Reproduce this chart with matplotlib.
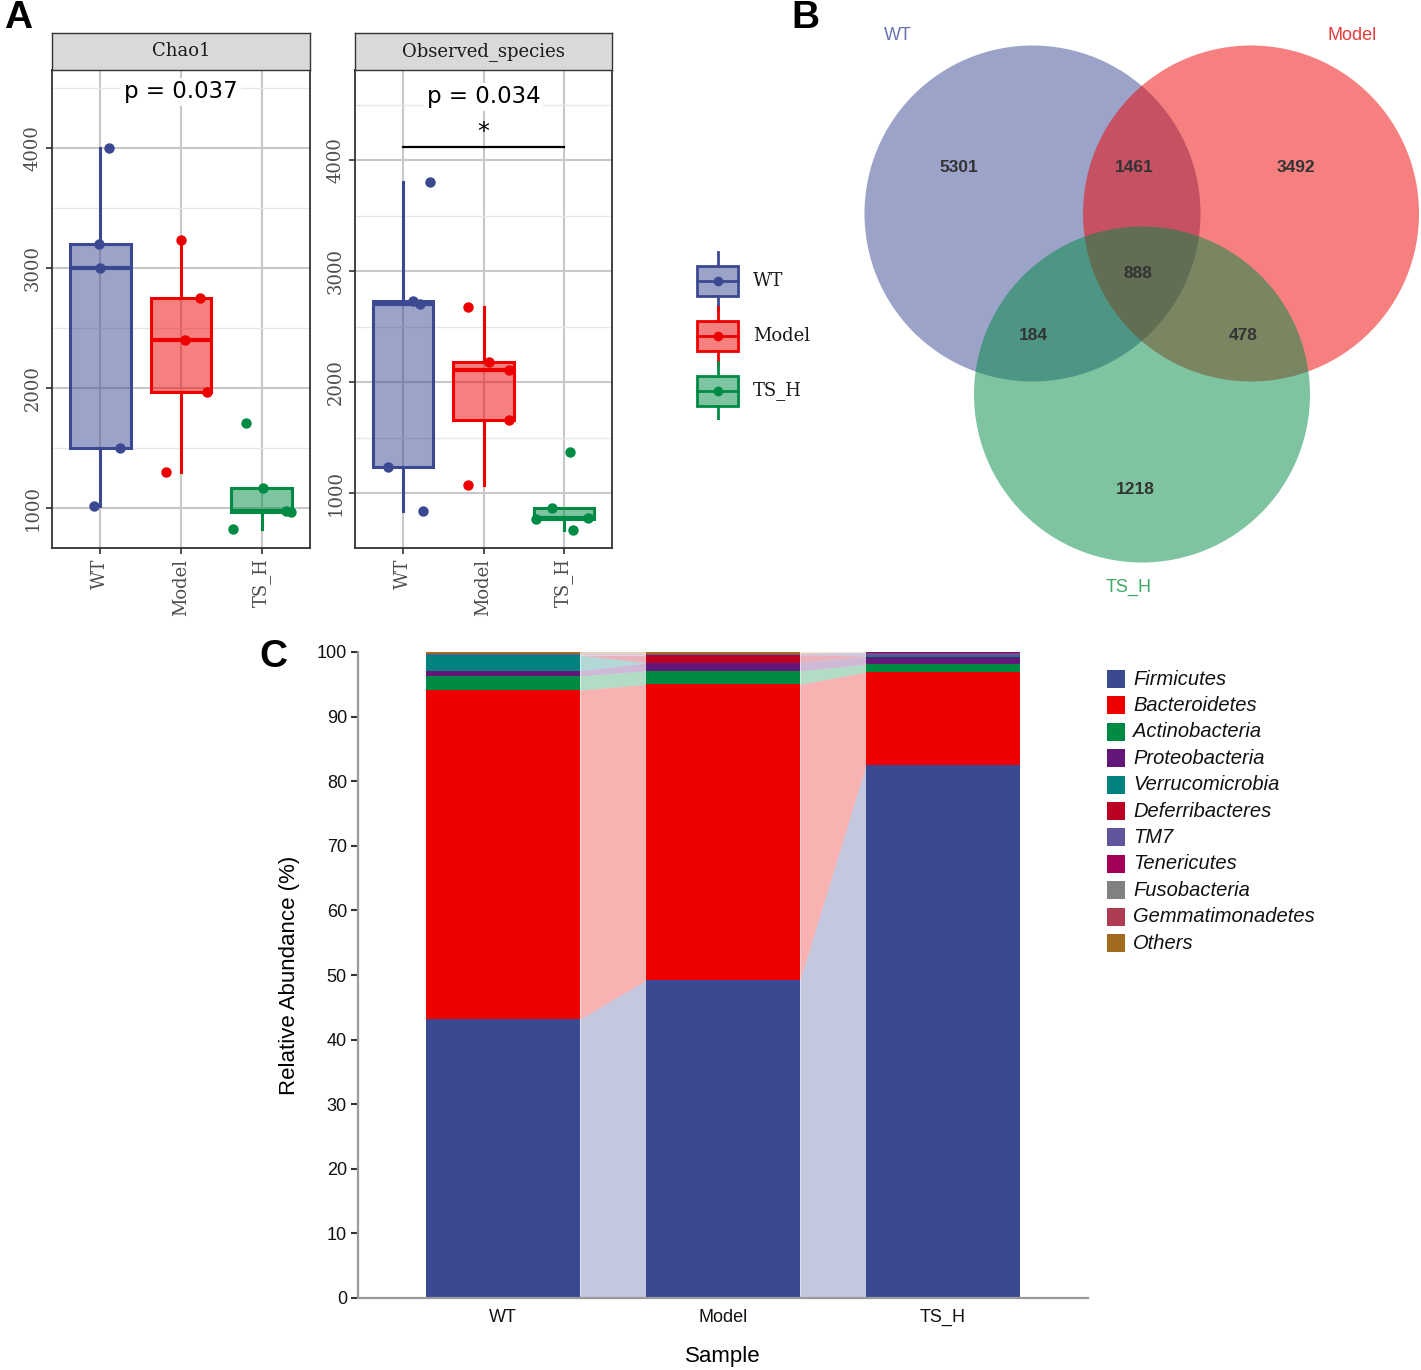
import numpy as np
import matplotlib
matplotlib.use('Agg')
import matplotlib.pyplot as plt
from matplotlib.patches import Rectangle, Circle
from matplotlib.colors import to_rgba

# ---------------- data ----------------
groups = ['WT', 'Model', 'TS_H']
group_colors = ['#3B4992', '#EE0000', '#008B45']

chao1_WT = [4000, 3200, 3000, 1500, 1020]
chao1_Model = [3235, 2748, 2401, 1971, 1298]
chao1_TSH = [1712, 1171, 977, 970, 822]
chao1_p = 'p = 0.037'

obs_WT = [3800, 2733, 2705, 1234, 839]
obs_Model = [2680, 2180, 2110, 1654, 1070]
obs_TSH = [1374, 867, 775, 769, 667]
obs_p = 'p = 0.034'
obs_sig = '*'

# horizontal jitter of the sample points
chao1_jit = [[0.11, -0.02, 0.0, 0.24, -0.08],
             [0.0, 0.23, 0.05, 0.32, -0.18],
             [-0.20, 0.02, 0.30, 0.36, -0.36]]
obs_jit = [[0.34, 0.12, 0.21, -0.19, 0.25],
           [-0.19, 0.07, 0.32, 0.32, -0.19],
           [0.08, -0.15, 0.30, -0.35, 0.12]]

venn_sets = ['WT', 'Model', 'TS_H']
venn_region_names = ['WT', 'WT&Model', 'Model', 'all', 'WT&TS_H', 'Model&TS_H', 'TS_H']
venn_counts = [5301, 1461, 3492, 888, 184, 478, 1218]

phyla = ['Firmicutes', 'Bacteroidetes', 'Actinobacteria', 'Proteobacteria',
         'Verrucomicrobia', 'Deferribacteres', 'TM7', 'Tenericutes',
         'Fusobacteria', 'Gemmatimonadetes', 'Others']
phyla_colors = ['#3B4992', '#EE0000', '#008B45', '#631879', '#008280',
                '#BB0021', '#5F559B', '#A20056', '#808180', '#B03C54', '#A36A22']
abund_WT = [43.2, 50.9, 2.2, 0.8, 2.4, 0.05, 0.15, 0.05, 0.0, 0.0, 0.25]
abund_Model = [49.2, 45.8, 2.1, 1.2, 0.05, 1.2, 0.15, 0.05, 0.0, 0.0, 0.25]
abund_TSH = [82.5, 14.4, 1.2, 1.2, 0.05, 0.05, 0.5, 0.05, 0.0, 0.0, 0.05]

# ---------------- figure ----------------
W, H = 1421, 1370
fig = plt.figure(figsize=(W / 100, H / 100), dpi=100)


def px_axes(l, t, r, b, **kw):
    return fig.add_axes([l / W, 1 - b / H, (r - l) / W, (b - t) / H], **kw)


SERIF = 'DejaVu Serif'
SANS = 'Liberation Sans'


def alpha_panel(l, r, data, jit, ylim, title, ptext, py, sig=None):
    ax = px_axes(l, 70, r, 548)
    strip = px_axes(l, 33, r, 70)
    strip.set_facecolor('#d9d9d9')
    strip.set_xticks([]); strip.set_yticks([])
    for s in strip.spines.values():
        s.set_color('#333333'); s.set_linewidth(1.0)
    strip.text(0.5, 0.5, title, ha='center', va='center', fontsize=13,
               family=SERIF, color='#1a1a1a', transform=strip.transAxes)

    for i, (vals, c) in enumerate(zip(data, group_colors)):
        bp = ax.boxplot([vals], positions=[i], widths=0.75, patch_artist=True,
                        showfliers=False, showcaps=False, whis=1.5, manage_ticks=False,
                        boxprops=dict(facecolor=to_rgba(c, 0.5), edgecolor=c, linewidth=2.2),
                        whiskerprops=dict(color=c, linewidth=2.2),
                        medianprops=dict(color=c, linewidth=3.0))
        for art in bp['boxes'] + bp['whiskers'] + bp['medians']:
            art.set_zorder(2)
        ax.plot(np.array(jit[i]) + i, vals, 'o', color=c, ms=7.5, mec='none', zorder=3)

    ax.set_xlim(-0.6, 2.6)
    ax.set_ylim(*ylim)
    ax.set_yticks([1000, 2000, 3000, 4000])
    ax.set_yticks([1500, 2500, 3500, 4500], minor=True)
    ax.set_xticks(range(3))
    ax.set_xticklabels(groups, rotation=90, family=SERIF, fontsize=13, color='#4d4d4d')
    for t in ax.get_yticklabels():
        t.set_rotation(90); t.set_va('center'); t.set_family(SERIF)
        t.set_fontsize(13); t.set_color('#4d4d4d')
    ax.tick_params(axis='both', which='major', length=4, width=1.2, color='#333333')
    ax.tick_params(axis='y', which='minor', length=0)
    ax.grid(True, which='major', color='#c8c8c8', lw=1.5, zorder=0)
    ax.grid(True, which='minor', axis='y', color='#e6e6e6', lw=1.0, zorder=0)
    ax.set_axisbelow(True)
    for s in ax.spines.values():
        s.set_color('#333333'); s.set_linewidth(1.3)

    ax.text(1, py, ptext, ha='center', va='center', fontsize=16.5, family='DejaVu Sans',
            color='black', zorder=4,
            bbox=dict(facecolor='white', edgecolor='none', pad=2))
    if sig is not None:
        ax.plot([0, 2], [sig[0], sig[0]], color='black', lw=1.6, zorder=4)
        ax.text(1, sig[1], sig[2], ha='center', va='center', fontsize=17,
                family='DejaVu Sans', color='black', zorder=4)
    return ax


alpha_panel(52, 310, [chao1_WT, chao1_Model, chao1_TSH], chao1_jit, (667, 4650),
            'Chao1', chao1_p, 4467)
alpha_panel(355, 612, [obs_WT, obs_Model, obs_TSH], obs_jit, (505, 4811),
            'Observed_species', obs_p, 4570, sig=(4115, 4250, obs_sig))

# legend for panel A
lga = px_axes(680, 240, 840, 420)
lga.set_xlim(680, 840); lga.set_ylim(420, 240); lga.axis('off')
for k, (g, c) in enumerate(zip(groups, group_colors)):
    yc = 281 + k * 55
    lga.add_patch(Rectangle((697, yc - 15), 41, 30, facecolor=to_rgba(c, 0.5),
                            edgecolor=c, lw=2.0))
    lga.plot([717.5, 717.5], [yc - 29, yc - 15], color=c, lw=2.0)
    lga.plot([717.5, 717.5], [yc + 15, yc + 29], color=c, lw=2.0)
    lga.plot([697, 738], [yc, yc], color=c, lw=2.0)
    lga.plot([717.5], [yc], 'o', color=c, ms=7, mec='none')
    lga.text(753, yc, g, ha='left', va='center', fontsize=13, family=SERIF, color='#1a1a1a')

# ---------------- panel B: Venn ----------------
vax = px_axes(840, 20, 1421, 600)
vax.set_xlim(840, 1421); vax.set_ylim(600, 20); vax.axis('off')
circle_layout = [(1032.5, 213.5), (1251, 213.5), (1142, 394.5)]
radius = 168
for (cx, cy), c in zip(circle_layout, group_colors):
    vax.add_patch(Circle((cx, cy), radius, facecolor=c, edgecolor='none', alpha=0.5))
region_layout = [(959, 168), (1134.5, 168), (1296, 168), (1138, 273),
                 (1033, 336), (1243, 336), (1135, 490)]
for (tx, ty), n in zip(region_layout, venn_counts):
    vax.text(tx, ty, str(n), ha='center', va='center', fontsize=12.5,
             fontweight='bold', family=SANS, color='#333333')
set_label_layout = [(898, 35), (1352, 35), (1129, 587)]
set_label_colors = ['#6b72b0', '#e83c3c', '#3caa64']
for (tx, ty), name, c in zip(set_label_layout, venn_sets, set_label_colors):
    vax.text(tx, ty, name, ha='center', va='center', fontsize=13, family=SANS, color=c)

# ---------------- panel C: stacked bars ----------------
cax = px_axes(358, 652, 1088, 1298)
abund = np.array([abund_WT, abund_Model, abund_TSH])  # samples x phyla
xpos = np.arange(len(groups))
bw = 0.7
bottoms = np.zeros(len(groups))
for j, (ph, c) in enumerate(zip(phyla, phyla_colors)):
    vals = abund[:, j]
    cax.bar(xpos, vals, bw, bottom=bottoms, color=c, linewidth=0, zorder=2)
    tops = bottoms + vals
    for i in range(len(groups) - 1):
        xs = [xpos[i] + bw / 2, xpos[i + 1] - bw / 2]
        cax.fill_between(xs, [bottoms[i], bottoms[i + 1]], [tops[i], tops[i + 1]],
                         color=c, alpha=0.3, linewidth=0, zorder=1)
    bottoms = tops

cax.set_xlim(-0.66, 2.66)
cax.set_ylim(0, 100)
cax.set_yticks(np.arange(0, 101, 10))
cax.set_xticks(xpos)
cax.set_xticklabels(groups)
for t in cax.get_xticklabels() + cax.get_yticklabels():
    t.set_family(SANS); t.set_fontsize(13); t.set_color('#111111')
cax.tick_params(axis='y', length=5, width=1.5, color='#333333', pad=3)
cax.tick_params(axis='x', length=0, pad=8)
for side in ['top', 'right']:
    cax.spines[side].set_visible(False)
for side in ['left', 'bottom']:
    cax.spines[side].set_color('#9a9a9a'); cax.spines[side].set_linewidth(1.6)
cax.set_ylabel('Relative Abundance (%)', family=SANS, fontsize=16, labelpad=12)
cax.set_xlabel('Sample', family=SANS, fontsize=16, labelpad=14)

# legend for panel C
lgc = px_axes(1095, 660, 1400, 960)
lgc.set_xlim(1095, 1400); lgc.set_ylim(960, 660); lgc.axis('off')
for k, (ph, c) in enumerate(zip(phyla, phyla_colors)):
    yc = 679 + k * 26.4
    lgc.add_patch(Rectangle((1107, yc - 9), 18, 18, facecolor=c, edgecolor='none'))
    lgc.text(1133, yc, ph, ha='left', va='center', fontsize=14.5, style='italic',
             family=SANS, color='#111111')

# panel letters
for letter, (lx, ly) in zip('ABC', [(18, 18), (805, 18), (273, 657)]):
    fig.text(lx / W, 1 - ly / H, letter, ha='center', va='center', fontsize=28,
             fontweight='bold', family=SANS)

fig.savefig('out.png', dpi=100)
